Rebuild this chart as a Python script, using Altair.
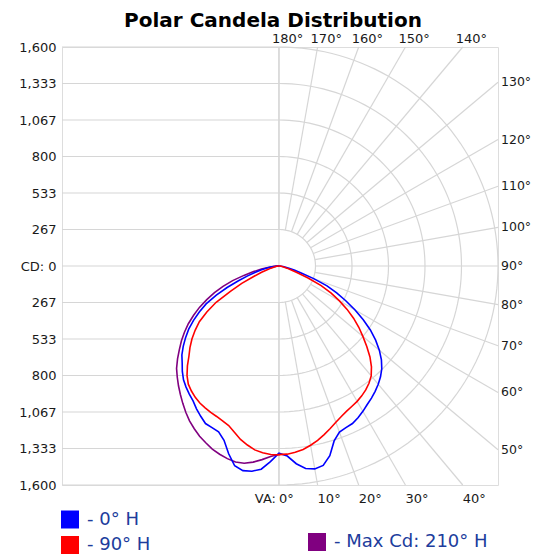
import math
import altair as alt
import pandas as pd

# ---------------- data ----------------
ANGLES = [0, 2.5, 5, 7.5, 10, 12.5, 15, 17.5, 20, 22.5, 25, 27.5, 30, 32.5, 35, 37.5,
          40, 42.5, 45, 47.5, 50, 52.5, 55, 57.5, 60, 62.5, 65, 67.5, 70, 72.5, 75,
          77.5, 80, 82.5, 85, 87.5, 90]

# 0° H plane (right half) and its opposite 180° H plane (left half), blue
CD_0H = [1368, 1390, 1450, 1492, 1505, 1492, 1435, 1340, 1292, 1278, 1270, 1250, 1226, 1200,
         1178, 1154, 1128, 1098, 1062, 1015, 957, 890, 815, 730, 640, 550, 465, 380, 270,
         170, 115, 75, 50, 30, 15, 6, 0]
CD_180H = [1368, 1430, 1490, 1512, 1518, 1495, 1420, 1335, 1290, 1278, 1270, 1238, 1205, 1168,
           1142, 1115, 1085, 1045, 1000, 962, 913, 860, 805, 740, 672, 600, 505, 410, 315,
           240, 182, 135, 95, 60, 35, 15, 0]
# 90° H plane (right half) and 270° H plane (left half), red
CD_90H = [1378, 1376, 1366, 1352, 1330, 1305, 1275, 1245, 1215, 1190, 1170, 1155, 1142, 1125,
          1105, 1080, 1048, 1000, 940, 870, 800, 735, 665, 590, 510, 430, 340, 230, 135,
          90, 60, 40, 28, 18, 10, 4, 0]
CD_270H = [1380, 1378, 1370, 1355, 1328, 1298, 1258, 1222, 1205, 1190, 1180, 1168, 1156, 1138,
           1115, 1088, 1045, 990, 930, 882, 830, 772, 710, 625, 530, 400, 300, 200, 135,
           90, 60, 40, 28, 18, 10, 4, 0]
# Max Cd plane 210° H (left half), purple
CD_210H = [1375, 1393, 1420, 1445, 1463, 1467, 1457, 1442, 1424, 1398, 1372, 1340, 1307, 1267,
           1225, 1183, 1142, 1100, 1058, 1005, 950, 898, 843, 785, 720, 655, 582, 510, 435,
           355, 265, 190, 130, 80, 45, 18, 0]

SERIES = ["- 0° H", "- 90° H", "- Max Cd: 210° H"]
COLORS = ["#0000ff", "#ff0000", "#800080"]

CD_MAX = 1600
CD_STEP = 1600 / 6
CD_LEVELS = [CD_STEP * k for k in range(-6, 7)]
VA_GRID = list(range(0, 181, 10))
X_MIN = -1585

# ---------------- tables ----------------
def polar(v, a, side):
    r = math.radians(a)
    return side * v * math.sin(r), -v * math.cos(r)

def both_sides(name, left, right):
    rows = []
    for a, v in zip(ANGLES, left):
        x, y = polar(v, a, -1)
        rows.append({"series": name, "order": -a, "x": x, "y": y})
    for a, v in zip(ANGLES, right or []):
        x, y = polar(v, a, 1)
        rows.append({"series": name, "order": a, "x": x, "y": y})
    return pd.DataFrame(rows)

blue = both_sides(SERIES[0], CD_180H, CD_0H)
red = both_sides(SERIES[1], CD_270H, CD_90H)
purple = both_sides(SERIES[2], CD_210H, None)

# grid: concentric semicircles on the right half
circ = []
for k in range(1, 7):
    rr = CD_STEP * k
    for a in range(0, 181, 2):
        x, y = polar(rr, a, 1)
        circ.append({"ring": k, "a": a, "x": x, "y": y})
circles = pd.DataFrame(circ)

# grid: left horizontal lines
hlines = pd.DataFrame({"y": CD_LEVELS, "x": [X_MIN] * len(CD_LEVELS), "x2": [0] * len(CD_LEVELS)})
vline = pd.DataFrame({"x": [0], "y": [-CD_MAX], "y2": [CD_MAX]})

# grid: radial lines from the first ring to the frame edge
rad = []
lab_bottom, lab_right, lab_top = [], [], []
for a in VA_GRID:
    s, c = math.sin(math.radians(a)), -math.cos(math.radians(a))
    ts = []
    if s > 1e-9:
        ts.append(CD_MAX / s)
    if abs(c) > 1e-9:
        ts.append(CD_MAX / abs(c))
    t = min(ts)
    ex, ey = t * s, t * c
    x0, y0 = CD_STEP * s, CD_STEP * c
    rad.append({"x": x0, "y": y0, "x2": ex, "y2": ey})
    txt = f"{a}°"
    if a <= 40:
        lab_bottom.append({"x": ex, "y": -CD_MAX, "t": txt})
    elif a <= 130:
        lab_right.append({"x": CD_MAX, "y": ey, "t": txt})
    else:
        lab_top.append({"x": ex, "y": CD_MAX, "t": txt})
radials = pd.DataFrame(rad)

# ---------------- chart ----------------
GRID = "#d6d6d6"
FONT = "DejaVu Sans"
xs = alt.Scale(domain=[X_MIN, CD_MAX], nice=False, zero=False)
ys = alt.Scale(domain=[-CD_MAX, CD_MAX], nice=False, zero=False)
X = alt.X("x:Q", scale=xs, axis=None)
Y = alt.Y("y:Q", scale=ys, axis=alt.Axis(
    values=CD_LEVELS, grid=False, ticks=False, domain=False, labelFlush=False,
    labelOverlap=False, labelPadding=6, labelFontSize=13, labelFont=FONT, labelColor="#1a1a1a",
    labelExpr="datum.value == 0 ? 'CD: 0' : format(abs(datum.value), ',.0f')", title=None))

h_layer = alt.Chart(hlines).mark_rule(color=GRID, strokeWidth=1.2).encode(x=X, x2="x2:Q", y=Y)
v_layer = alt.Chart(vline).mark_rule(color=GRID, strokeWidth=1.2).encode(x=X, y=Y, y2="y2:Q")
c_layer = alt.Chart(circles).mark_line(color=GRID, strokeWidth=1.2).encode(
    x=X, y=Y, detail="ring:N", order="a:Q")
r_layer = alt.Chart(radials).mark_rule(color=GRID, strokeWidth=1.2).encode(
    x=X, y=Y, x2="x2:Q", y2="y2:Q")

leg_common = dict(orient="none", title=None, symbolType="square", symbolSize=81,
                  symbolStrokeWidth=9, labelFontSize=18, labelFont=FONT,
                  labelColor="#203c9c", labelOffset=8, padding=0, rowPadding=0)


def curve_layer(df, idx, lx, ly):
    return alt.Chart(df).mark_line(strokeWidth=1.6).encode(
        x=X, y=Y, order="order:Q",
        color=alt.Color("series:N",
                        scale=alt.Scale(domain=[SERIES[idx]], range=[COLORS[idx]]),
                        legend=alt.Legend(legendX=lx, legendY=ly, **leg_common)))


p_layer = curve_layer(purple, 2, 246, 486)
b_layer = curve_layer(blue, 0, -1, 463.5)
rd_layer = curve_layer(red, 1, -1, 489)

tprops = dict(fontSize=13, font=FONT, color="#1a1a1a", baseline="middle")
t_bottom = alt.Chart(pd.DataFrame(lab_bottom)).mark_text(align="left", dy=14, **tprops).encode(
    x=X, y=Y, text="t:N")
t_va = alt.Chart(pd.DataFrame([{"x": 0, "y": -CD_MAX, "t": "VA:"}])).mark_text(
    align="right", dy=14, dx=-3, **tprops).encode(x=X, y=Y, text="t:N")
t_right = alt.Chart(pd.DataFrame(lab_right)).mark_text(
    align="left", dx=3, fontSize=12.5, font=FONT, color="#1a1a1a", baseline="middle").encode(
    x=X, y=Y, text="t:N")
t_top = alt.Chart(pd.DataFrame(lab_top)).mark_text(align="left", dx=-7, dy=-8, **tprops).encode(
    x=X, y=Y, text="t:N")

chart = alt.layer(
    h_layer, v_layer, c_layer, r_layer, p_layer, b_layer, rd_layer,
    t_bottom, t_va, t_right, t_top
).resolve_scale(color="independent").properties(
    width=436, height=438,
    padding={"left": 54, "top": 39, "right": 33, "bottom": 71},
    autosize=alt.AutoSizeParams(type="none"),
    title=alt.TitleParams("Polar Candela Distribution", font=FONT, fontSize=20,
                          fontWeight="bold", color="#000000", anchor="middle",
                          frame="group", offset=4, baseline="bottom", dx=-7, dy=21.5),
).configure_view(stroke="#c8c8c8", strokeWidth=1.2).configure(background="white")

chart.save("out.html", embed_options={"renderer": "svg", "actions": False})
